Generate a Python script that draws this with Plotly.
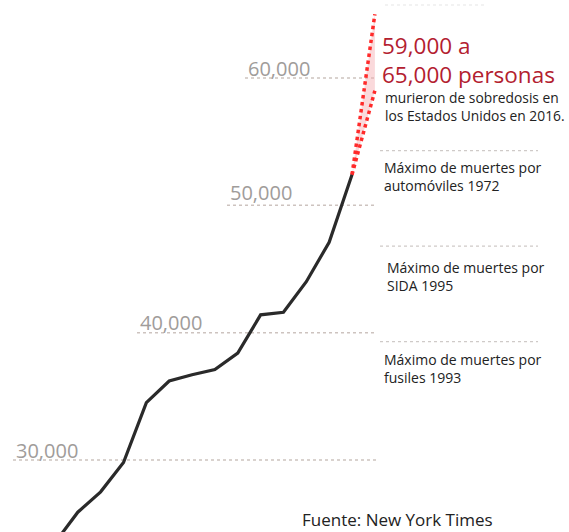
import plotly.graph_objects as go

# ---- data ----
years = [2002, 2003, 2004, 2005, 2006, 2007, 2008, 2009, 2010, 2011, 2012, 2013, 2014, 2015]
deaths = [23500, 25900, 27500, 29800, 34500, 36200, 36700, 37100, 38400, 41400, 41600, 44000, 47100, 52400]
proj_years = [2015, 2016]
proj_low = [52400, 59000]
proj_high = [52400, 65000]
grid_values = [30000, 40000, 50000, 60000]
grid_labels = ["30,000", "40,000", "50,000", "60,000"]
ref_values = [54300, 46800, 39300]
ref_line1 = ["Máximo de muertes por", "Máximo de muertes por", "Máximo de muertes por"]
ref_line2 = ["automóviles 1972", "SIDA 1995", "fusiles 1993"]

W, H = 569, 532
XR = [1999.595, 2024.497]
YR = [24344, 66127]
FONT = "Open Sans"

def px_x(p):
    return XR[0] + (XR[1] - XR[0]) * p / W

def py(p):
    return 1 - p / H

fig = go.Figure()

fig.add_trace(go.Scatter(x=proj_years, y=proj_low, mode="lines",
                         line=dict(color="#ff2a2a", width=3.5, dash="dot"),
                         hoverinfo="skip", showlegend=False))
fig.add_trace(go.Scatter(x=proj_years, y=proj_high, mode="lines",
                         line=dict(color="#ff2a2a", width=3.5, dash="dot"),
                         fill="tonexty", fillcolor="rgba(245,170,175,0.45)",
                         hoverinfo="skip", showlegend=False))
fig.add_trace(go.Scatter(x=years, y=deaths, mode="lines",
                         line=dict(color="#2a2a2a", width=3.2),
                         hoverinfo="skip", showlegend=False))

shapes = []
annotations = []

# stepped horizontal guides
grid_start_px = [13, 137, 227, 245]
label_center_py = [450, 322, 193, 68]
for v, lab, sx, ly in zip(grid_values, grid_labels, grid_start_px, label_center_py):
    shapes.append(dict(type="line", xref="x", yref="y", x0=px_x(sx), x1=px_x(377),
                       y0=v, y1=v, line=dict(color="#cdc3bf", width=1.5, dash="dot"),
                       layer="below"))
    annotations.append(dict(text=lab, xref="x", yref="paper", x=px_x(sx + 1), y=py(ly),
                            xanchor="left", yanchor="middle", showarrow=False,
                            font=dict(family=FONT, size=20, color="#a09c9a")))

# right-hand reference lines
for v in ref_values:
    shapes.append(dict(type="line", xref="paper", yref="y", x0=380 / W, x1=538 / W,
                       y0=v, y1=v, line=dict(color="#cfcac8", width=1.3, dash="dot")))
# faint top line
shapes.append(dict(type="line", xref="paper", yref="paper", x0=385 / W, x1=487 / W,
                   y0=py(5), y1=py(5), line=dict(color="#eeeeee", width=1.5, dash="dot")))

def txt(s, x, y, size, color="#222222"):
    annotations.append(dict(text=s, xref="paper", yref="paper", x=x / W, y=py(y),
                            xanchor="left", yanchor="middle", showarrow=False,
                            align="left", borderpad=0,
                            font=dict(family=FONT, size=size, color=color)))

txt("59,000 a<br>65,000 personas", 381, 60, 22.5, "#b3202f")
txt("murieron de sobredosis en<br>los Estados Unidos en 2016.", 384, 107, 13.8)
ref_text_y = [176, 276, 368]
ref_text_x = [383, 386, 383]
for l1, l2, y, x in zip(ref_line1, ref_line2, ref_text_y, ref_text_x):
    txt(l1 + "<br>" + l2, x, y, 14)
txt("Fuente: New York Times", 301, 519, 17)

fig.update_layout(
    width=W, height=H,
    margin=dict(l=0, r=0, t=0, b=0),
    paper_bgcolor="white", plot_bgcolor="white",
    xaxis=dict(range=XR, visible=False, fixedrange=True),
    yaxis=dict(range=YR, visible=False, fixedrange=True),
    shapes=shapes, annotations=annotations,
    showlegend=False,
)

fig.write_html("out.html", config=dict(displayModeBar=False),
               post_script="document.body.style.margin='0';document.body.style.padding='0';document.body.style.overflow='hidden';")
